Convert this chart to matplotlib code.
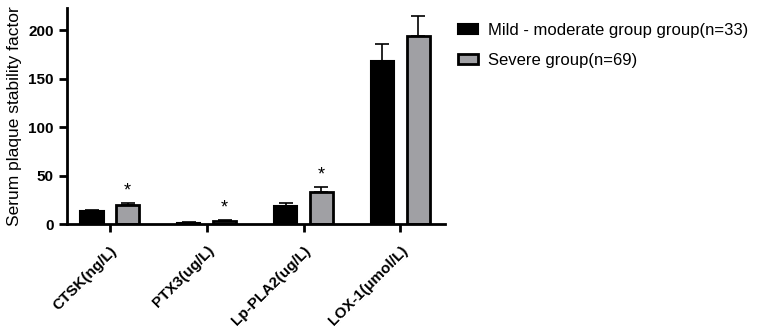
import numpy as np
from matplotlib import pyplot as plt

plt.rcParams["font.family"] = ["Liberation Sans", "DejaVu Sans"]

categories = ["CTSK(ng/L)", "PTX3(ug/L)", "Lp-PLA2(ug/L)", "LOX-1(μmol/L)"]
mild = [13.7, 1.5, 18.5, 168]
mild_err = [1.3, 0.4, 2.8, 18]
severe = [19.3, 3.0, 33.3, 194]
severe_err = [2.0, 1.0, 4.5, 21]
significant = [True, True, True, False]

x = np.arange(len(categories))
w = 0.24
off = 0.185

fig = plt.figure(figsize=(7.58, 3.31), dpi=100)
ax = fig.add_axes([0.088, 0.323, 0.499, 0.653])

ax.bar(x - off, mild, w, color="black", edgecolor="black", linewidth=1.5,
       yerr=[np.zeros(len(mild)), mild_err], error_kw=dict(capsize=5, elinewidth=1.2, capthick=1.2),
       label="Mild - moderate group group(n=33)")
ax.bar(x + off, severe, w, color="#a0a0a4", edgecolor="black", linewidth=2,
       yerr=[np.zeros(len(severe)), severe_err], error_kw=dict(capsize=5, elinewidth=1.2, capthick=1.2),
       label="Severe group(n=69)")

for i, s in enumerate(significant):
    if s:
        ax.text(x[i] + off, severe[i] + severe_err[i] + 4, "*", ha="center", va="bottom",
                fontsize=13)

ax.set_xlim(-0.445, 3.46)
ax.set_ylim(0, 223)
ax.set_yticks([0, 50, 100, 150, 200])
ax.set_xticks(x)
ax.set_xticklabels(categories, rotation=45, ha="right", rotation_mode="anchor",
                   fontweight="bold", fontsize=11)
for lab in ax.get_yticklabels():
    lab.set_fontweight("bold")
    lab.set_fontsize(11)
ax.set_ylabel("Serum plaque stability factor", fontsize=12.5)
ax.spines["top"].set_visible(False)
ax.spines["right"].set_visible(False)
ax.spines["left"].set_linewidth(2)
ax.spines["bottom"].set_linewidth(2)
ax.tick_params(width=2, length=6)
ax.tick_params(axis="x", pad=8)

ax.legend(loc="upper left", bbox_to_anchor=(0.995, 1.0), frameon=False, fontsize=12,
          handlelength=1.2, handleheight=0.6, handletextpad=0.6, labelspacing=0.9)

fig.savefig("out.png")
plt.close(fig)
